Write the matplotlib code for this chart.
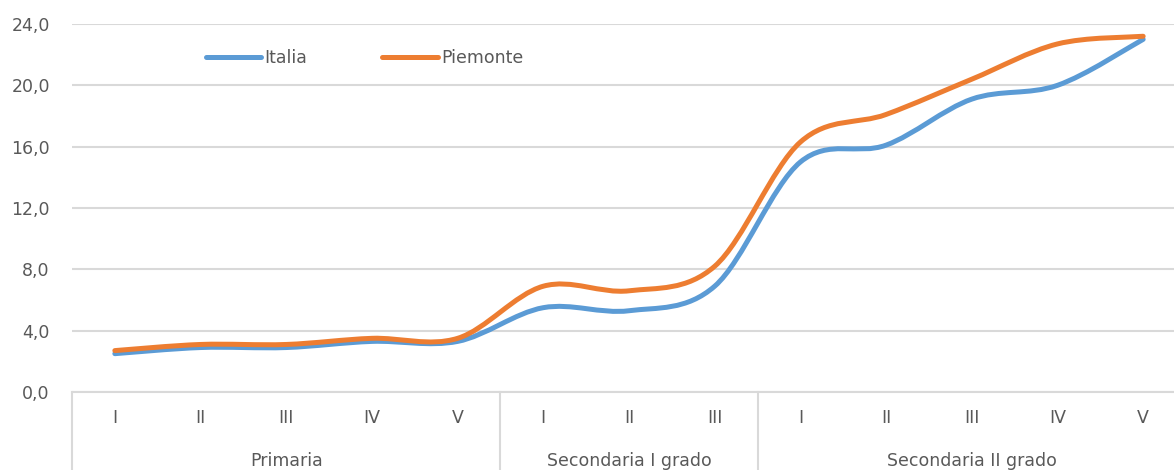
import numpy as np
import matplotlib.pyplot as plt
from matplotlib.path import Path
from matplotlib.patches import PathPatch

plt.rcParams['font.family'] = ['DejaVu Sans']

# dati
classi = ['I', 'II', 'III', 'IV', 'V', 'I', 'II', 'III', 'I', 'II', 'III', 'IV', 'V']
gruppi = ['Primaria', 'Secondaria I grado', 'Secondaria II grado']
n_gruppo = [5, 3, 5]
italia = [2.5, 2.9, 2.9, 3.3, 3.3, 5.5, 5.3, 6.9, 15.0, 16.1, 19.1, 20.0, 23.0]
piemonte = [2.7, 3.1, 3.1, 3.5, 3.5, 6.9, 6.6, 8.2, 16.3, 18.1, 20.4, 22.7, 23.2]

col_it = '#5B9BD5'
col_pi = '#ED7D31'
grigio = '#595959'
linea = '#D9D9D9'
fs = 12.5


def curva(ax, x, y, color, label):
    # curva morbida tipo Excel (Catmull-Rom -> Bezier)
    x = np.asarray(x, float)
    y = np.asarray(y, float)
    px = np.concatenate([[x[0]], x, [x[-1]]])
    py = np.concatenate([[y[0]], y, [y[-1]]])
    verts = [(x[0], y[0])]
    codes = [Path.MOVETO]
    for i in range(1, len(x)):
        c1 = (px[i] + (px[i + 1] - px[i - 1]) / 6, py[i] + (py[i + 1] - py[i - 1]) / 6)
        c2 = (px[i + 1] - (px[i + 2] - px[i]) / 6, py[i + 1] - (py[i + 2] - py[i]) / 6)
        verts += [c1, c2, (x[i], y[i])]
        codes += [Path.CURVE4] * 3
    ax.add_patch(PathPatch(Path(verts, codes), facecolor='none', edgecolor=color,
                           lw=3.6, capstyle='round', joinstyle='round', zorder=3))
    ax.plot([], [], color=color, lw=3.6, solid_capstyle='round', label=label)


fig = plt.figure(figsize=(11.74, 4.70), dpi=100)
ax = fig.add_axes([72 / 1174, 78 / 470, 1114 / 1174, 368 / 470])

xs = np.arange(len(classi))
curva(ax, xs, italia, col_it, 'Italia')
curva(ax, xs, piemonte, col_pi, 'Piemonte')

ax.set_xlim(-0.5, len(classi) - 0.5)
ax.set_ylim(0, 24)
ax.set_yticks(np.arange(0, 25, 4))
ax.yaxis.set_major_formatter(plt.FuncFormatter(lambda v, p: ('%.1f' % v).replace('.', ',')))
ax.tick_params(axis='y', length=0, pad=16, labelsize=fs, labelcolor=grigio)
ax.set_xticks([])
ax.grid(axis='y', color=linea, lw=1.5)
ax.set_axisbelow(True)
for s in ['top', 'right', 'left']:
    ax.spines[s].set_visible(False)
ax.spines['bottom'].set_color(linea)
ax.spines['bottom'].set_linewidth(1.5)

# asse categorie a due livelli
trans = ax.get_xaxis_transform()
for i, c in enumerate(classi):
    ax.text(i, -0.072, c, transform=trans, ha='center', va='center',
            fontsize=fs, color=grigio)
start = 0
for g, n in zip(gruppi, n_gruppo):
    ax.text(start + (n - 1) / 2, -0.188, g, transform=trans, ha='center', va='center',
            fontsize=fs, color=grigio)
    ax.plot([start - 0.5, start - 0.5], [0, -0.25], transform=trans, color=linea,
            lw=1.5, clip_on=False)
    start += n
ax.plot([start - 0.5, start - 0.5], [0, -0.25], transform=trans, color=linea,
        lw=1.5, clip_on=False)

ax.legend(loc='center left', bbox_to_anchor=(0.12, 0.908), ncol=2, frameon=False,
          handlelength=3.2, handletextpad=0.2, columnspacing=4.3,
          fontsize=fs, labelcolor=grigio, borderaxespad=0, borderpad=0)

plt.savefig('out.png', dpi=100)
plt.close(fig)
